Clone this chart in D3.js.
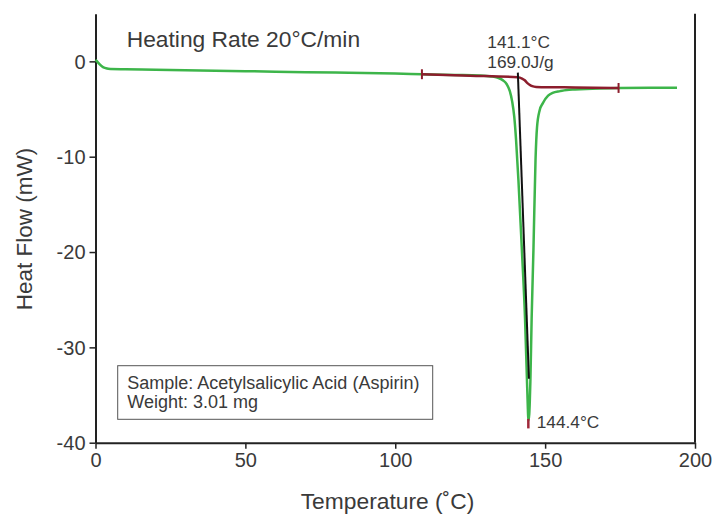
<!DOCTYPE html>
<html>
<head>
<meta charset="utf-8">
<script src="https://cdn.jsdelivr.net/npm/d3@7"></script>
<style>
  body { margin: 0; background: #fff; }
  text { font-family: "Liberation Sans", Arial, sans-serif; fill: #3a3a3a; }
</style>
</head>
<body>
<div id="chart"></div>
<script>
// DSC curve, aspirin (temperature in C, heat flow in mW)
const curveTemp = [0, 0.8, 1.5, 2.5, 3.5, 5, 10, 20, 40, 60, 80, 100, 109, 120, 128, 132, 134, 136, 137.2, 138.2, 139, 139.7, 140.3, 141.1,
  142.2, 143.3, 143.9, 144.25, 144.4, 144.7, 145.1, 145.5, 146.1, 146.8, 147.3, 148.2, 149.2, 151, 152.5, 155, 157.2, 160, 168, 175, 185, 194];
const curveFlow = [0.15, -0.1, -0.35, -0.6, -0.72, -0.8, -0.83, -0.88, -0.98, -1.08, -1.18, -1.28, -1.35, -1.42, -1.48, -1.58, -1.7, -2.0, -2.4, -3.1, -4.2, -5.8, -8.2, -12.5,
  -19.5, -27, -33, -36.5, -37.7, -37, -33.3, -27, -19.8, -10.3, -6.9, -5.1, -4.4, -3.6, -3.3, -3.12, -3.0, -2.95, -2.85, -2.8, -2.78, -2.78];

// integration baseline
const baseTemp = [108.9, 125, 140.8, 142.3, 143.2, 144, 144.8, 145.7, 147, 160, 174.5];
const baseFlow = [-1.35, -1.5, -1.67, -1.8, -1.98, -2.25, -2.45, -2.6, -2.68, -2.74, -2.79];

// onset tangent
const onsetTemp = [140.9, 144.6];
const onsetFlow = [-1.18, -33.3];

const baseTicks = [108.9, 174.5];
const peakTemp = 144.4;

const xTicks = [0, 50, 100, 150, 200];
const yTicks = [0, -10, -20, -30, -40];

let margin = { top: 13.7, right: 33, bottom: 72.3, left: 95.5 };
let width = 728 - margin.left - margin.right,
    height = 515 - margin.top - margin.bottom;

let svg = d3.select("#chart").append("svg")
    .attr("width", 728)
    .attr("height", 515);

let g = svg.append("g")
    .attr("transform", "translate(" + margin.left + "," + margin.top + ")");

let x = d3.scaleLinear().domain([0, 200]).range([0, width]);
let y = d3.scaleLinear().domain([-40, 5]).range([height, 0]);

// axes (plain hyphen for negatives, like the original)
let xAxis = g.append("g")
    .attr("transform", "translate(0," + height + ")")
    .call(d3.axisBottom(x).tickValues(xTicks).tickSize(6).tickSizeOuter(0).tickPadding(4));
let yAxis = g.append("g")
    .call(d3.axisLeft(y).tickValues(yTicks).tickFormat(d => String(d)).tickSize(6).tickSizeOuter(0).tickPadding(4));

[xAxis, yAxis].forEach(a => {
    a.select(".domain").attr("stroke", "#222").attr("stroke-width", 2);
    a.selectAll(".tick line").attr("stroke", "#222").attr("stroke-width", 1.5);
    a.selectAll(".tick text").style("font-size", "20px").attr("fill", "#3a3a3a");
});
yAxis.selectAll(".tick text").attr("dy", "0.34em");

// right border
g.append("line")
    .attr("x1", width).attr("x2", width)
    .attr("y1", 0).attr("y2", height)
    .attr("stroke", "#222").attr("stroke-width", 2);

let line = d3.line()
    .x(d => x(d[0]))
    .y(d => y(d[1]));

// green heat flow curve
g.append("path")
    .datum(d3.zip(curveTemp, curveFlow))
    .attr("fill", "none")
    .attr("stroke", "#3db54a")
    .attr("stroke-width", 2.5)
    .attr("d", line.curve(d3.curveMonotoneX));

// baseline
g.append("path")
    .datum(d3.zip(baseTemp, baseFlow))
    .attr("fill", "none")
    .attr("stroke", "#8c1d2c")
    .attr("stroke-width", 2.5)
    .attr("d", line.curve(d3.curveMonotoneX));

// baseline end ticks
g.selectAll("line.btick")
    .data(baseTicks)
    .enter().append("line")
    .attr("class", "btick")
    .attr("x1", d => x(d)).attr("x2", d => x(d))
    .attr("y1", (d, i) => y(baseFlow[i ? baseFlow.length - 1 : 0] + 0.52))
    .attr("y2", (d, i) => y(baseFlow[i ? baseFlow.length - 1 : 0] - 0.52))
    .attr("stroke", "#8c1d2c")
    .attr("stroke-width", 2);

// peak tick
g.append("line")
    .attr("x1", x(peakTemp)).attr("x2", x(peakTemp))
    .attr("y1", y(-37.5)).attr("y2", y(-38.5))
    .attr("stroke", "#a0283a")
    .attr("stroke-width", 2.5);

// onset tangent
g.append("path")
    .datum(d3.zip(onsetTemp, onsetFlow))
    .attr("fill", "none")
    .attr("stroke", "#111")
    .attr("stroke-width", 2)
    .attr("d", line.curve(d3.curveLinear));

// annotations
svg.append("text").attr("x", 126.7).attr("y", 46.7)
    .style("font-size", "22.8px").text("Heating Rate 20°C/min");
svg.append("text").attr("x", 487.3).attr("y", 48.3)
    .style("font-size", "17.3px").text("141.1°C");
svg.append("text").attr("x", 487.3).attr("y", 68.3)
    .style("font-size", "17.3px").text("169.0J/g");
svg.append("text").attr("x", 536.7).attr("y", 428.3)
    .style("font-size", "17.3px").text("144.4°C");

// sample box
svg.append("rect")
    .attr("x", 117.7).attr("y", 365.7)
    .attr("width", 315).attr("height", 53.6)
    .attr("fill", "#fff").attr("stroke", "#555").attr("stroke-width", 1);
svg.append("text").attr("x", 127.3).attr("y", 389.3)
    .style("font-size", "18px").text("Sample: Acetylsalicylic Acid (Aspirin)");
svg.append("text").attr("x", 127.3).attr("y", 408.3)
    .style("font-size", "18px").text("Weight: 3.01 mg");

// axis titles
svg.append("text")
    .attr("x", 387.5).attr("y", 509.3)
    .attr("text-anchor", "middle")
    .style("font-size", "22.8px")
    .text("Temperature (˚C)");
svg.append("text")
    .attr("transform", "translate(31.7,229) rotate(-90)")
    .attr("text-anchor", "middle")
    .style("font-size", "22.5px")
    .text("Heat Flow (mW)");
</script>
</body>
</html>
